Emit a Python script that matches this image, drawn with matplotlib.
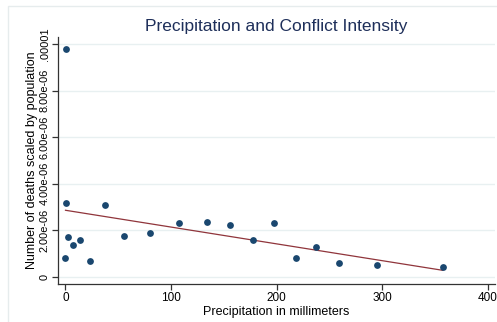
import numpy as np
import matplotlib
matplotlib.use('Agg')
import matplotlib.pyplot as plt
from matplotlib.patches import Rectangle

plt.rcParams['font.family'] = ['Liberation Sans', 'DejaVu Sans']

# precipitation (mm) and deaths scaled by population
precip = [0.2, 0.0, 0.5, 2.7, 6.8, 13.7, 23.2, 37.2, 55.5, 79.8, 107.9, 134.4,
          155.6, 177.4, 197.6, 218.5, 237.4, 259.2, 295.0, 357.5]
deaths = [9.79e-6, 0.82e-6, 3.18e-6, 1.72e-6, 1.35e-6, 1.59e-6, 0.69e-6, 3.08e-6,
          1.76e-6, 1.88e-6, 2.31e-6, 2.34e-6, 2.24e-6, 1.57e-6, 2.30e-6, 0.79e-6,
          1.26e-6, 0.58e-6, 0.49e-6, 0.42e-6]
yticks = [0, 2e-6, 4e-6, 6e-6, 8e-6, 1e-5]
ytick_labels = ['0', '2.00e-06', '4.00e-06', '6.00e-06', '8.00e-06', '.00001']
xticks = [0, 100, 200, 300, 400]

fig = plt.figure(figsize=(4.97, 3.22), dpi=100)
fig.patches.append(Rectangle((8 / 497, -0.1), 1.2, (322 - 6) / 322 + 0.1,
                             transform=fig.transFigure, fill=False,
                             edgecolor='#e6eced', linewidth=1.0))

ax = fig.add_axes([58 / 497, 38 / 322, 437 / 497, 247 / 322])

x = np.array(precip)
y = np.array(deaths)
slope, icpt = np.polyfit(x, y, 1)
xx = np.array([x.min(), x.max()])

for yt in yticks:
    ax.axhline(yt, color='#e8f0f1', lw=1.0, zorder=0)

ax.scatter(x, y, s=24, color='#1a476f', zorder=3, linewidths=0)
ax.plot(xx, icpt + slope * xx, color='#90353b', lw=0.9, zorder=2)

ax.set_xlim(-7.1, 407)
ax.set_ylim(-0.31e-6, 10.31e-6)
ax.set_xticks(xticks)
ax.set_yticks(yticks)
ax.set_yticklabels(ytick_labels, rotation=90, va='center')
ax.tick_params(direction='out', length=4, width=0.9, color='#333333', pad=2)
ax.tick_params(axis='x', labelsize=8.5)
ax.tick_params(axis='y', labelsize=7.9)

for s in ['top', 'right']:
    ax.spines[s].set_visible(False)
for s in ['left', 'bottom']:
    ax.spines[s].set_color('#333333')
    ax.spines[s].set_linewidth(0.9)

ax.set_xlabel('Precipitation in millimeters', fontsize=9, labelpad=1)
ax.set_ylabel('Number of deaths scaled by population', fontsize=9, labelpad=1)
fig.text(0.555, 1 - 26 / 322, 'Precipitation and Conflict Intensity',
         ha='center', va='center', fontsize=12.5, color='#1e2f5a')

plt.savefig('out.png', dpi=100)
